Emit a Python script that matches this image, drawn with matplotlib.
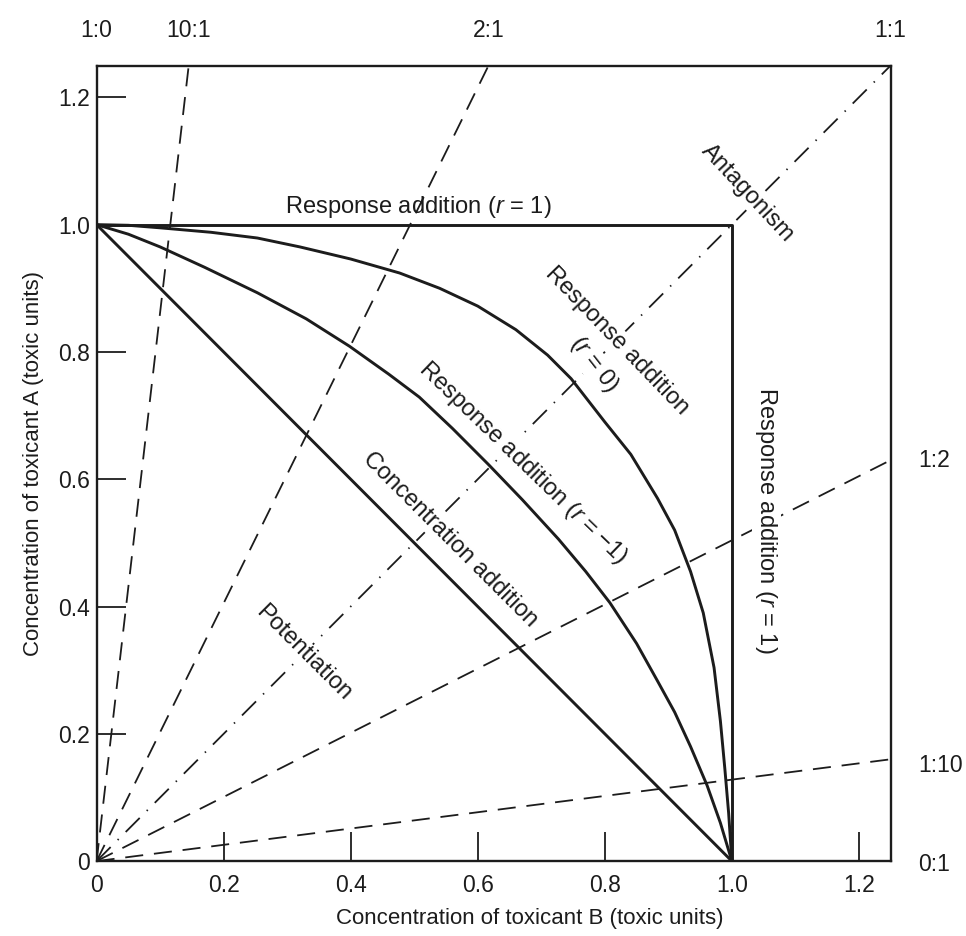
import matplotlib
matplotlib.use('Agg')
import matplotlib.pyplot as plt

plt.rcParams['font.family'] = ['Liberation Sans', 'DejaVu Sans']
plt.rcParams['mathtext.fontset'] = 'custom'
plt.rcParams['mathtext.it'] = 'Liberation Sans:italic'
plt.rcParams['mathtext.rm'] = 'Liberation Sans'

# isoboles (toxic units of B on x, A on y)
ra0_x = [0, 0.05, 0.1, 0.18, 0.253, 0.32, 0.4, 0.477, 0.54, 0.6, 0.66, 0.71, 0.747, 0.8, 0.841,
         0.883, 0.91, 0.935, 0.955, 0.972, 0.982, 0.989, 0.995, 1.0]
ra0_y = [1.0, 0.999, 0.995, 0.988, 0.979, 0.965, 0.946, 0.924, 0.9, 0.872, 0.835, 0.795, 0.758, 0.69, 0.639,
         0.570, 0.52, 0.455, 0.39, 0.304, 0.22, 0.145, 0.075, 0.0]

ram1_x = [0, 0.05, 0.1, 0.17, 0.253, 0.33, 0.398, 0.46, 0.508, 0.56, 0.617, 0.67, 0.727, 0.77, 0.808,
          0.85, 0.883, 0.91, 0.935, 0.961, 0.982, 1.0]
ram1_y = [1.0, 0.985, 0.965, 0.933, 0.893, 0.852, 0.809, 0.765, 0.729, 0.68, 0.623, 0.568, 0.506, 0.455, 0.406,
          0.342, 0.283, 0.234, 0.18, 0.119, 0.06, 0.0]

ca_x = [0, 1.0]
ca_y = [1.0, 0]

ra1_x = [0, 1.0, 1.0]
ra1_y = [1.0, 1.0, 0]

# mixture ratio rays (A:B), end points on the frame
ray_names = ['10:1', '2:1', '1:1', '1:2', '1:10']
ray_x_end = [0.145, 0.617, 1.25, 1.25, 1.25]
ray_y_end = [1.25, 1.25, 1.25, 0.63, 0.16]

top_labels = ['1:0', '10:1', '2:1', '1:1']
top_label_x = [0, 0.145, 0.617, 1.25]
right_labels = ['1:2', '1:10', '0:1']
right_label_y = [0.63, 0.15, -0.005]

ticks = [0, 0.2, 0.4, 0.6, 0.8, 1.0, 1.2]
tick_text = ['0', '0.2', '0.4', '0.6', '0.8', '1.0', '1.2']

ink = '#1c1c1c'

fig = plt.figure(figsize=(9.66, 9.36), dpi=100)
ax = fig.add_axes([0.100, 0.080, 0.822, 0.850])

# rays
for name, xe, ye in zip(ray_names, ray_x_end, ray_y_end):
    style = (0, (11, 5.5, 0.8, 5.5)) if name == '1:1' else (0, (10, 6))
    ax.plot([0, xe], [0, ye], color=ink, lw=1.3, linestyle=style, zorder=1)

# isoboles
lw = 2.1
ax.plot(ra1_x, ra1_y, color=ink, lw=lw, zorder=3)
ax.plot(ra0_x, ra0_y, color=ink, lw=lw, zorder=3)
ax.plot(ram1_x, ram1_y, color=ink, lw=lw, zorder=3)
ax.plot(ca_x, ca_y, color=ink, lw=lw, zorder=3)

ax.set_xlim(0, 1.25)
ax.set_ylim(0, 1.25)
ax.set_xticks(ticks)
ax.set_xticklabels(tick_text)
ax.set_yticks(ticks)
ax.set_yticklabels(tick_text)
ax.tick_params(direction='in', length=21, width=1.3, labelsize=16.5, colors=ink)
ax.tick_params(axis='x', pad=9)
ax.tick_params(axis='y', pad=5)
for s in ax.spines.values():
    s.set_linewidth(1.7)
    s.set_color(ink)

ax.set_xlabel('Concentration of toxicant B (toxic units)', fontsize=16, labelpad=8, color=ink, x=0.545)
ax.set_ylabel('Concentration of toxicant A (toxic units)', fontsize=16, labelpad=10, color=ink)

box = dict(facecolor='white', edgecolor='none', pad=1)
fs = 17
ax.text(0.507, 1.027, r'Response addition ($r$ = 1)', fontsize=fs, ha='center', va='center', color=ink, zorder=2)
ax.text(1.054, 0.535, r'Response addition ($r$ = 1)', fontsize=fs, ha='center', va='center',
        rotation=-90, color=ink, zorder=2, bbox=box)
ax.text(1.024, 1.05, 'Antagonism', fontsize=fs, ha='center', va='center', rotation=-47,
        color=ink, zorder=2, bbox=box)
ax.text(0.819, 0.818, 'Response addition', fontsize=fs, ha='center', va='center', rotation=-46,
        color=ink, zorder=2, bbox=box)
ax.text(0.783, 0.78, r'($r$ = 0)', fontsize=fs, ha='center', va='center', rotation=-52,
        color=ink, zorder=2, bbox=box)
ax.text(0.671, 0.626, 'Response addition ($r$ = \u22121)', fontsize=fs, ha='center', va='center',
        rotation=-44, color=ink, zorder=2, bbox=box)
ax.text(0.556, 0.505, 'Concentration addition', fontsize=fs, ha='center', va='center', rotation=-45,
        color=ink, zorder=2, bbox=box)
ax.text(0.326, 0.327, 'Potentiation', fontsize=fs, ha='center', va='center', rotation=-45,
        color=ink, zorder=2, bbox=box)

for lab, xv in zip(top_labels, top_label_x):
    ax.text(xv, 1.305, lab, fontsize=16.5, ha='center', va='center', color=ink, clip_on=False)
for lab, yv in zip(right_labels, right_label_y):
    ax.text(1.293, yv, lab, fontsize=16.5, ha='left', va='center', color=ink, clip_on=False)

fig.savefig('out.png', dpi=100, facecolor='white')
